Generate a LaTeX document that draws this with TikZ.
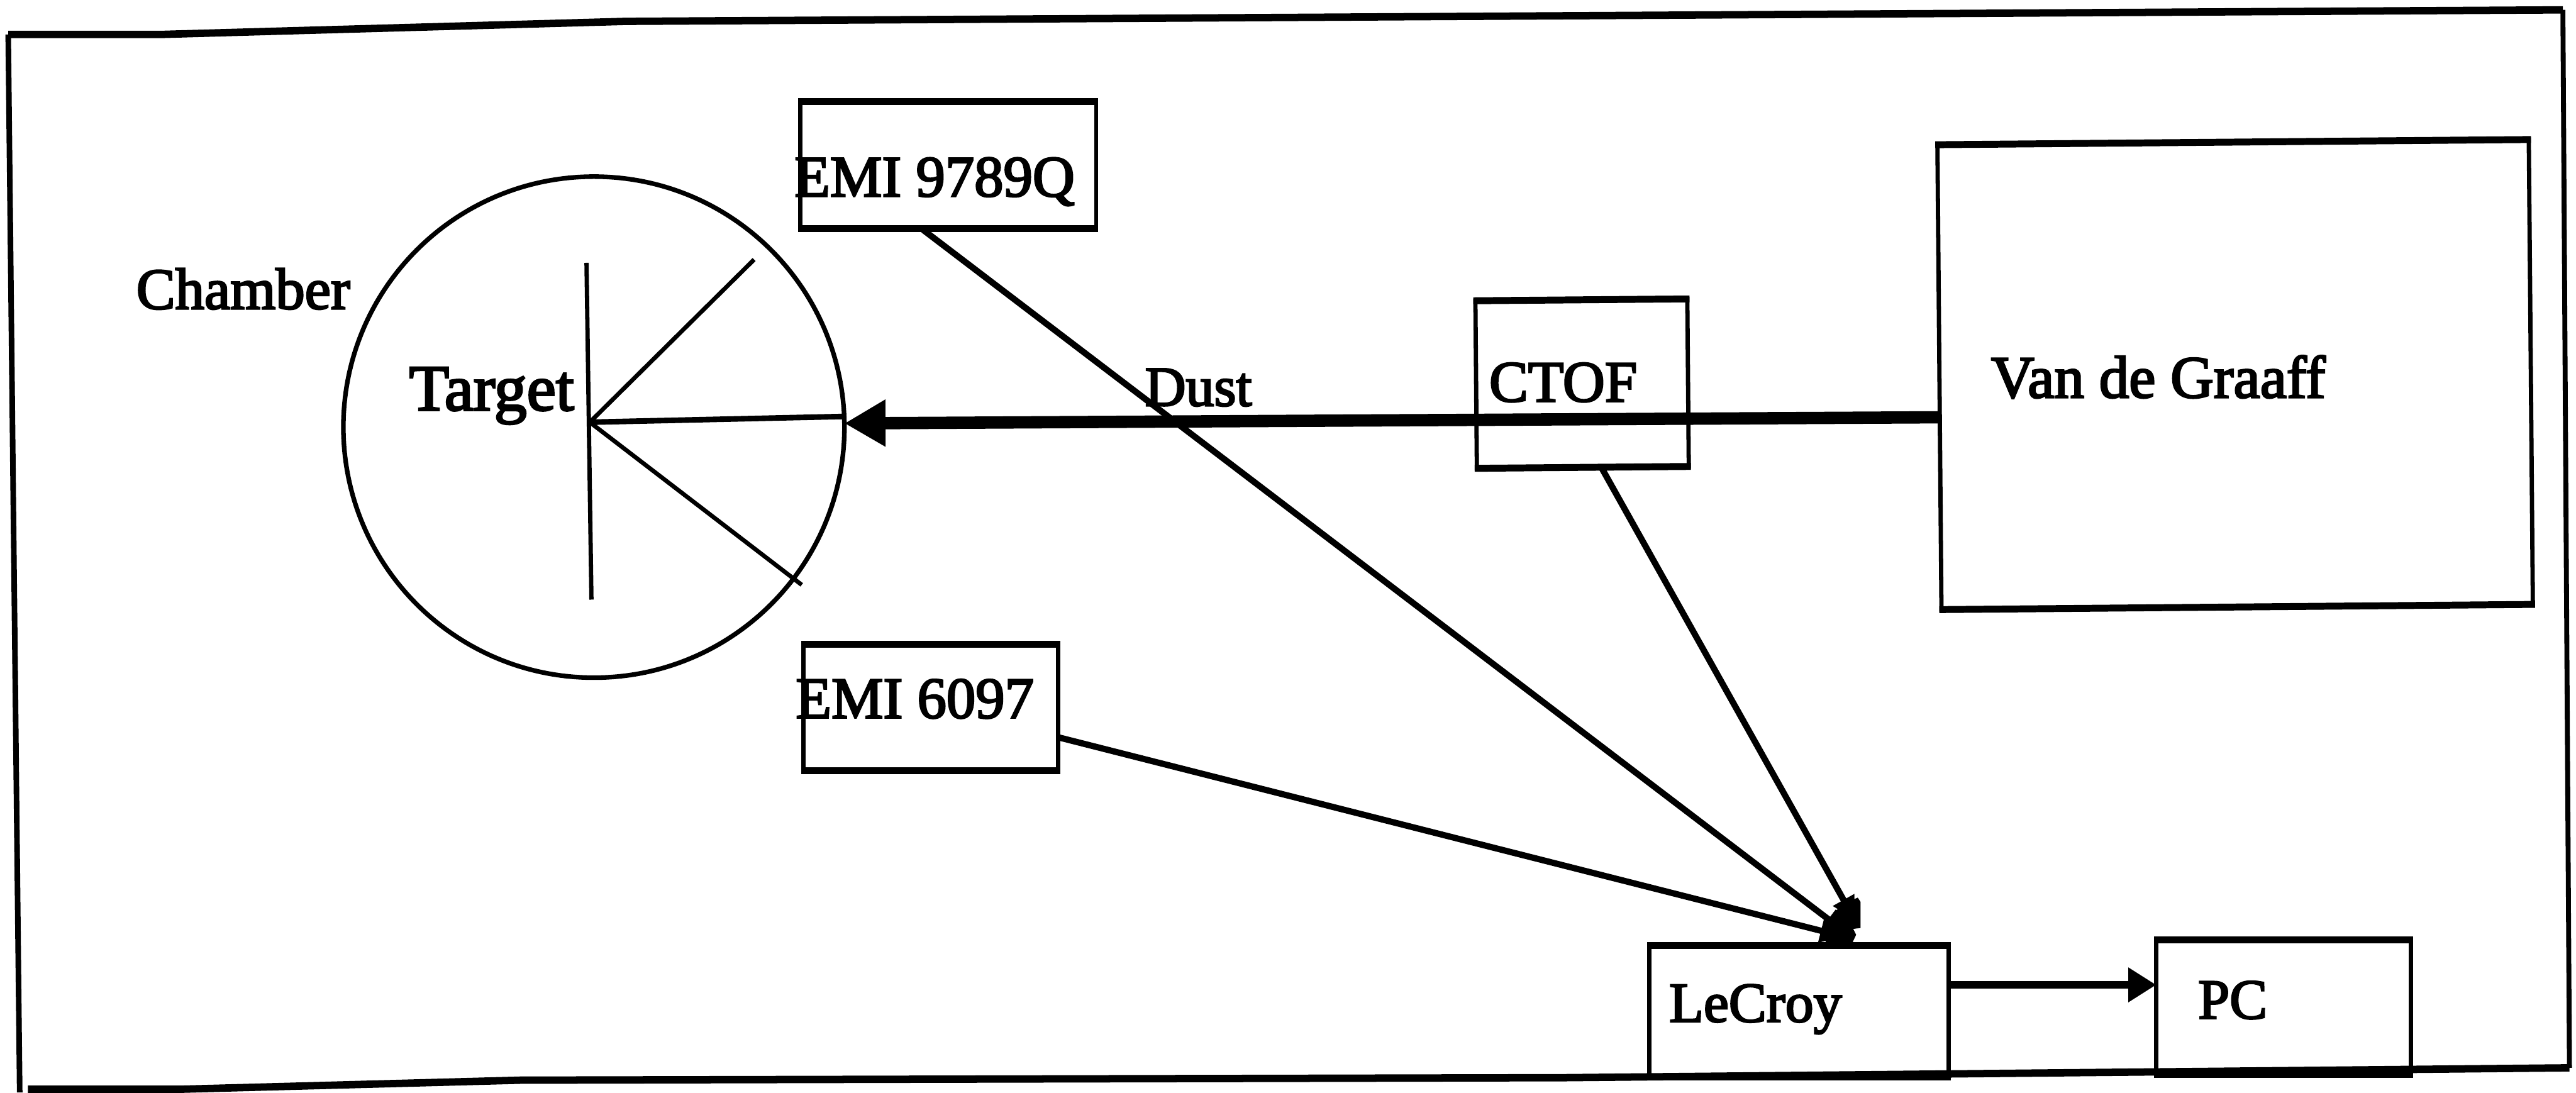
\documentclass[tikz,border=0pt]{standalone}
\usepackage{fontspec}
\setmainfont{Liberation Serif}[FakeBold=3]
\usetikzlibrary{arrows.meta}
\tikzset{
  hline/.style={draw=black,line width=4.5pt,line join=miter},
  edgebar/.style={hline,line width=4.2pt,shorten <=-1.3pt,shorten >=-1.3pt},
  boxnode/.style={draw=black,line width=2.6pt,fill=none,inner sep=0pt,outer sep=0pt,minimum width=#1},
  txt/.style={anchor=base west,inner sep=0pt,outer sep=0pt,text=black,font=\fontsize{35.5}{40}\selectfont},
  thinline/.style={draw=black,line width=2.6pt},
  wire/.style={draw=black,line width=3.8pt},
  tipwire/.style={wire,-{Triangle[length=14pt,width=14pt]}},
}
\begin{document}
\begin{tikzpicture}[x=1pt,y=-1pt]
\useasboundingbox (0,0) rectangle (1568,665);
% outer frame
\coordinate (f1) at (5,21);
\coordinate (f2) at (97,21);
\coordinate (f3) at (381,13);
\coordinate (f4) at (1560,6);
\coordinate (f5) at (1564,650);
\coordinate (f6) at (952,656);
\coordinate (f7) at (317,657.5);
\coordinate (f8) at (111,663);
\coordinate (f9) at (17,663);
\coordinate (f10) at (12,665);
\draw[hline] (f1) -- (f2) -- (f3) -- (f4);
\draw[hline] (f5) -- (f6) -- (f7) -- (f8) -- (f9);
\draw[thinline,line width=3.4pt] (f1) -- (f10);
\draw[thinline,line width=3pt] (f4) -- (f5);
% chamber
\node[draw=black,line width=2.8pt,circle,minimum size=305pt,inner sep=0pt,outer sep=0pt] (chamber) at (361.5,260) {};
\coordinate (tgt) at (359,257);
\coordinate (tgtT) at (357,160);
\coordinate (tgtB) at (360,365);
\coordinate (r1) at (459,158);
\coordinate (r3) at (488,356);
\draw[thinline] (tgtT) -- (tgtB);
\draw[thinline] (tgt) -- (r1);
\draw[thinline] (tgt) -- (r3);
\draw[draw=black,line width=3.4pt] (tgt) -- (chamber.east |- 0,253.5);
% boxes
\node[boxnode=180pt,minimum height=77pt] (emiA) at (577.2,100.5) {};
\node[boxnode=155pt,minimum height=77pt] (emiB) at (566.5,430.5) {};
\node[boxnode=129pt,minimum height=102pt,rotate=0.5] (ctof) at (963,233.5) {};
\node[boxnode=360pt,minimum height=283pt,rotate=0.5] (vdg) at (1360.5,228) {};
\node[boxnode=182pt,minimum height=80pt] (lecroy) at (1095,615.5) {};
\node[boxnode=155pt,minimum height=82pt] (pc) at (1390,613) {};
\foreach \b in {emiA,emiB,ctof,vdg,lecroy,pc}{
  \draw[edgebar] (\b.north west) -- (\b.north east);
  \draw[edgebar] (\b.south west) -- (\b.south east);
}
% text
\node[txt] (tChamber) at (83,188) {Chamber};
\node[txt,font=\fontsize{39.8}{42}\selectfont] (tTarget) at (249,249.7) {Target};
\node[txt,font=\fontsize{34.4}{40}\selectfont] (tDust) at (697,247) {Dust};
\node[txt] (tCTOF) at (906.5,244.4) {CTOF};
\node[txt,font=\fontsize{36.4}{40}\selectfont] (tVdg) at (1212,242) {Van de Graaff};
\node[txt] (tEmiA) at (483.6,119.5) {EMI 9789Q};
\node[txt] (tEmiB) at (484.4,437) {EMI 6097};
\node[txt,font=\fontsize{34.4}{40}\selectfont] (tLe) at (1016,622) {LeCroy};
\node[txt,font=\fontsize{34.4}{40}\selectfont] (tPC) at (1338,620) {PC};
% connectors
\coordinate (emiAout) at (562,140);
\coordinate (ctofOut) at (975,285);
\coordinate (emiBout) at (645,449);
\coordinate (inA) at (1124,568);
\coordinate (inB) at (1129,560);
\coordinate (inC) at (1122,570);
\draw[tipwire] (emiAout) -- (inA);
\draw[tipwire] (ctofOut) -- (inB);
\draw[tipwire] (emiBout) -- (inC);
% merged arrowheads above LeCroy
\fill[black] (1110.8,575) -- (1112.3,568.6) -- (1111,565.5) -- (1114,560.7) -- (1116,555.4) -- (1121.8,551) -- (1124.5,549) -- (1130.8,546.4) -- (1132.5,549) -- (1132.5,564.9) -- (1128,565.4) -- (1129.8,569) -- (1127,575) -- cycle;
% beam
\coordinate (beamS) at (vdg.west |- 0,254);
\coordinate (beamE) at (chamber.east |- 0,257.7);
\draw[draw=black,line width=7.5pt,-{Triangle[length=25pt,width=27pt]}] (beamS) -- (beamE);
\coordinate (lcOut) at (lecroy.east |- 0,599.5);
\coordinate (pcIn) at (pc.west |- 0,599.5);
\draw[draw=black,line width=4.5pt,-{Triangle[length=17pt,width=20pt]}] (lcOut) -- (pcIn);
\end{tikzpicture}
\end{document}
